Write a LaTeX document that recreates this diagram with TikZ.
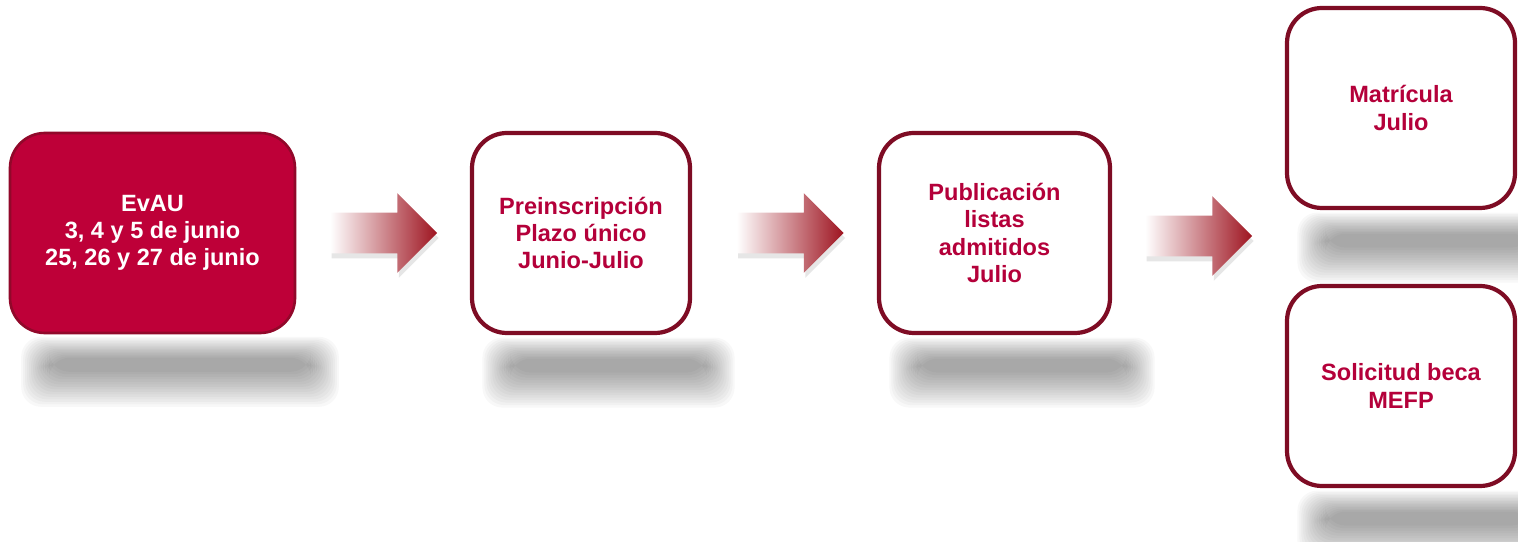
\documentclass[tikz,border=0pt]{standalone}
\usepackage{fontspec}
\setmainfont{Liberation Sans}
\usetikzlibrary{shapes.arrows,shadows,backgrounds,calc}
\definecolor{granate}{HTML}{BE0038}
\definecolor{borde}{HTML}{7E0C24}
\definecolor{texto}{HTML}{B4003A}
\definecolor{flecha}{HTML}{9E1420}

\begin{document}
\begin{tikzpicture}[
  paso/.style={draw=borde, line width=2.4pt, fill=white, rounded corners=0.7cm,
    text=texto, font=\fontsize{13.4}{15.5}\selectfont\bfseries, align=center,
    inner sep=0pt, minimum height=4cm},
  pasoA/.style={paso, fill=granate, draw=borde!70!granate, line width=1.5pt, text=white},
  flechita/.style={single arrow, single arrow head extend=0.39cm, inner xsep=0pt,
    inner ysep=0.4cm, minimum height=2.14cm, left color=white, right color=flecha,
    drop shadow={opacity=0.2, shadow xshift=0.03cm, shadow yshift=-0.1cm}}
]
  \useasboundingbox (0,0) rectangle (30.36,10.82);
  % pasos
  \node[pasoA, minimum width=5.7cm] (evau) at (3.05,6.16) {EvAU\\3, 4 y 5 de junio\\25, 26 y 27 de junio};
  \node[paso, minimum width=4.36cm] (pre) at (11.62,6.16) {Preinscripción\\Plazo único\\Junio-Julio};
  \node[paso, minimum width=4.62cm] (pub) at (19.89,6.16) {Publicación\\listas\\admitidos\\Julio};
  \node[paso, minimum width=4.56cm] (mat) at (28.02,8.66) {Matrícula\\Julio};
  \node[paso, minimum width=4.56cm] (beca) at (28.02,3.1) {Solicitud beca\\MEFP};
  % flechas
  \node[flechita] (f1) at (7.47,6.16) {};
  \node[flechita] (f2) at (15.6,6.16) {};
  \node[flechita] (f3) at (23.77,6.1) {};
  % sombras
  \begin{scope}[on background layer]
    \foreach \n in {evau,pre,pub,mat,beca}
      \foreach \k in {0,...,14}
        \fill[black, opacity=0.026, rounded corners=0.4cm]
          ($(\n.south west)+(0.25+0.04*\k,-0.05-0.03*\k)$) rectangle
          ($(\n.south east)+(0.85-0.04*\k,-1.45+0.05*\k)$);
  \end{scope}
\end{tikzpicture}
\end{document}
